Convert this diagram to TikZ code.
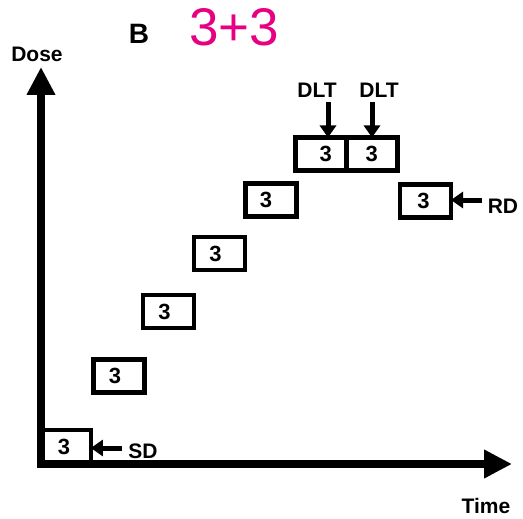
\documentclass[tikz,border=0pt]{standalone}
\usepackage{fontspec}
\setmainfont{Liberation Sans}
\usetikzlibrary{arrows.meta}
\definecolor{titlepink}{RGB}{230,0,130}
\tikzset{
  cohort/.style={draw=black, line width=4.5pt, minimum width=51pt, minimum height=33pt,
    inner sep=0pt, outer sep=0pt, font=\bfseries\fontsize{22}{22}\selectfont},
  lbl/.style={inner sep=0pt, font=\bfseries\fontsize{21}{21}\selectfont},
  axisline/.style={line width=8pt, line join=miter,
    {Triangle[length=28pt,width=27pt]}-{Triangle[length=28pt,width=27pt]}},
  pointer/.style={line width=5pt, -{Triangle[length=12pt,width=16pt]}}
}
\begin{document}
\begin{tikzpicture}[x=1pt,y=-1pt]
\useasboundingbox (0,0) rectangle (523,519);

% axes
\coordinate (O) at (41,464);
\coordinate (ytip) at (41,67);
\coordinate (xtip) at (512,464);
\draw[axisline] (ytip) -- (O) -- (xtip);

% headings and axis titles
\node[lbl, font=\bfseries\fontsize{28}{28}\selectfont] (panel) at (139,34) {B};
\node[inner sep=0pt, text=titlepink, font=\fontsize{53}{53}\selectfont] (design) at (234,27) {3+3};
\node[lbl] (dose) at (37,54) {Dose};
\node[lbl] (time) at (486,506) {Time};

% dose levels, three patients each
\node[cohort, minimum width=49.75pt, minimum height=33.75pt] (sd) at (66,447) {\hspace*{-4pt}3};
\node[cohort] (c1) at (119,376) {\hspace*{-8pt}3};
\node[cohort] (c2) at (168.5,311.5) {\hspace*{-8pt}3};
\node[cohort] (c3) at (219.5,253.5) {\hspace*{-8pt}3};
\node[cohort] (c4) at (271,200) {\hspace*{-10pt}3};
\node[cohort] (ca) at (320.75,154) {\hspace*{10pt}3};
\node[cohort, anchor=west] (cb) at (ca.east) {3};
\node[cohort] (rd) at (425.5,201) {\hspace*{-4pt}3};

% markers
\node[lbl] (sdlbl) at (143,451) {SD};
\node[lbl] (rdlbl) at (503,206) {RD};
\node[lbl] (dlt1) at (317,90) {DLT};
\node[lbl] (dlt2) at (379,90) {DLT};

\coordinate (sdtail) at (122,448);
\coordinate (rdtail) at (482,200);
\coordinate (dtail1) at (328,102);
\coordinate (dtail2) at (372,102);
\draw[pointer] (sdtail) -- (sdtail -| sd.east);
\draw[pointer] (rdtail) -- (rdtail -| rd.east);
\draw[pointer] (dtail1) -- (dtail1 |- ca.north);
\draw[pointer] (dtail2) -- (dtail2 |- cb.north);
\end{tikzpicture}
\end{document}
